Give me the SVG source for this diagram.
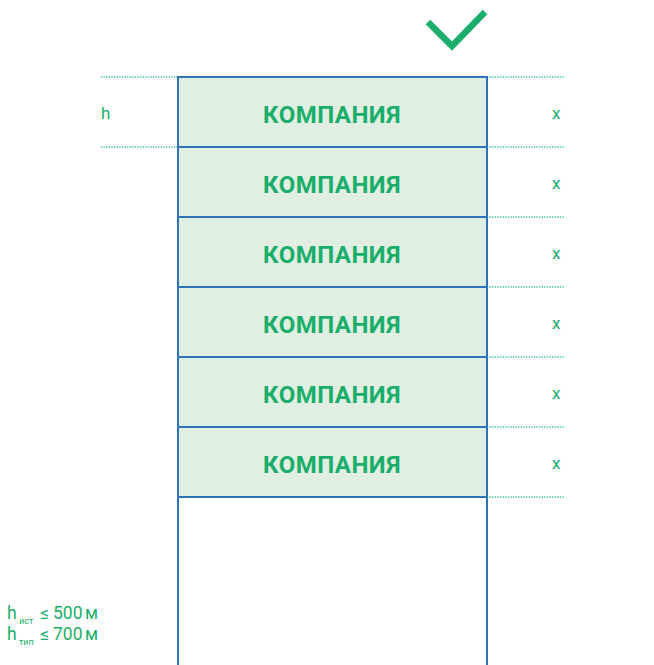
<svg xmlns="http://www.w3.org/2000/svg" width="654" height="665" viewBox="0 0 654 665">
<style>
.box{fill:#e0efe1;stroke:#2f74b8;stroke-width:2}
.dot{stroke:#3cc48a;stroke-width:1.3;stroke-dasharray:1.3 1.3;fill:none}
.lbl{font-family:Roboto,"Liberation Sans",sans-serif;font-weight:bold;font-size:24px;fill:#1aae6a;text-anchor:middle;letter-spacing:0.5px}
.sm{font-family:Roboto,"Liberation Sans",sans-serif;font-size:17px;fill:#1aae6a}
.bt{font-family:Roboto,"Liberation Sans",sans-serif;font-size:17.5px;fill:#1aae6a}
.sub{font-family:Roboto,"Liberation Sans",sans-serif;font-size:9px;fill:#1aae6a}
</style>
<rect width="654" height="665" fill="#fff"/>
<g id="connectors">
<line class="dot" x1="101" y1="77" x2="178" y2="77"/>
<line class="dot" x1="101" y1="147" x2="178" y2="147"/>
<line class="dot" x1="487" y1="77" x2="564" y2="77"/>
<line class="dot" x1="487" y1="147" x2="564" y2="147"/>
<line class="dot" x1="487" y1="217" x2="564" y2="217"/>
<line class="dot" x1="487" y1="287" x2="564" y2="287"/>
<line class="dot" x1="487" y1="357" x2="564" y2="357"/>
<line class="dot" x1="487" y1="427" x2="564" y2="427"/>
<line class="dot" x1="487" y1="497" x2="564" y2="497"/>
<line x1="178" y1="497" x2="178" y2="665" stroke="#2f74b8" stroke-width="2"/>
<line x1="487" y1="497" x2="487" y2="665" stroke="#2f74b8" stroke-width="2"/>
</g>
<g id="check"><polyline points="428,22 452,46 485,12" fill="none" stroke="#1aae6a" stroke-width="6.5"/></g>
<g id="n1"><rect class="box" x="178" y="77" width="309" height="70"/><text class="lbl" x="332" y="123">КОМПАНИЯ</text></g>
<g id="n2"><rect class="box" x="178" y="147" width="309" height="70"/><text class="lbl" x="332" y="193">КОМПАНИЯ</text></g>
<g id="n3"><rect class="box" x="178" y="217" width="309" height="70"/><text class="lbl" x="332" y="263">КОМПАНИЯ</text></g>
<g id="n4"><rect class="box" x="178" y="287" width="309" height="70"/><text class="lbl" x="332" y="333">КОМПАНИЯ</text></g>
<g id="n5"><rect class="box" x="178" y="357" width="309" height="70"/><text class="lbl" x="332" y="403">КОМПАНИЯ</text></g>
<g id="n6"><rect class="box" x="178" y="427" width="309" height="70"/><text class="lbl" x="332" y="473">КОМПАНИЯ</text></g>
<g id="labels">
<text class="sm" x="101" y="119">h</text>
<text class="sm" x="552" y="119">x</text>
<text class="sm" x="552" y="189">x</text>
<text class="sm" x="552" y="259">x</text>
<text class="sm" x="552" y="329">x</text>
<text class="sm" x="552" y="399">x</text>
<text class="sm" x="552" y="469">x</text>
<text class="bt" x="7" y="619">h</text>
<text class="sub" x="19" y="624">ист</text>
<text class="bt" x="40" y="619">≤</text>
<text class="bt" x="53" y="619">500</text>
<text class="bt" x="85" y="619">м</text>
<text class="bt" x="7" y="640">h</text>
<text class="sub" x="19" y="645">тип</text>
<text class="bt" x="40" y="640">≤</text>
<text class="bt" x="53" y="640">700</text>
<text class="bt" x="85" y="640">м</text>
</g>
</svg>
